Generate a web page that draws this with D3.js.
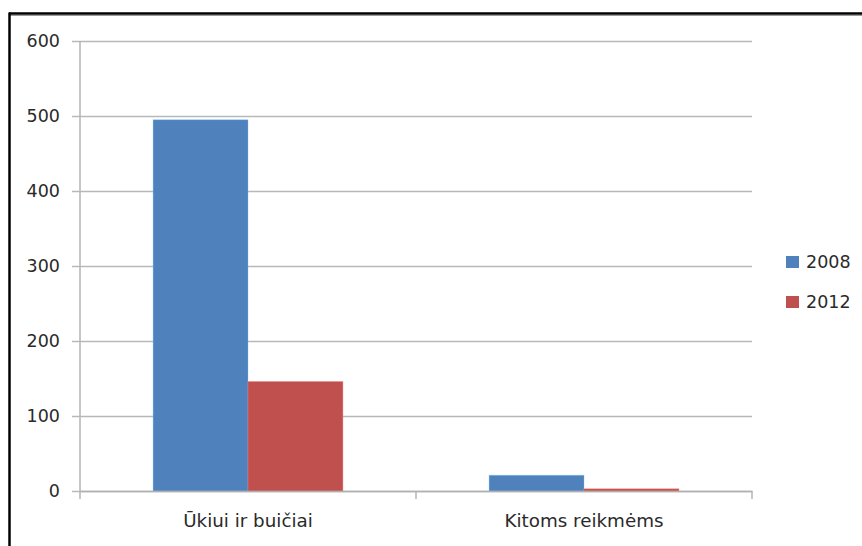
<!DOCTYPE html>
<html>
<head>
<meta charset="utf-8">
<script src="https://cdn.jsdelivr.net/npm/d3@7"></script>
<style>
  html, body { margin: 0; padding: 0; background: #fff; }
  svg { display: block; }
  text { font-family: "DejaVu Sans", "Liberation Sans", sans-serif; fill: #2a2a2a; }
</style>
</head>
<body>
<svg id="chart" width="862" height="546"></svg>
<script>
// Chart data
const categories = ["Ūkiui ir buičiai", "Kitoms reikmėms"];
const seriesNames = ["2008", "2012"];
const values2008 = [495, 21];
const values2012 = [146, 3];
const yTicks = [0, 100, 200, 300, 400, 500, 600];
const colors = ["#4f81bd", "#c0504d"];

const FONT = '"DejaVu Sans", "Liberation Sans", sans-serif';
const FS = 17.5;
const FS_CAT = 18.3;

const svg = d3.select("#chart");
const W = 862, H = 546;
const plot = { left: 80, right: 752, top: 41, bottom: 491 };

// Frame around the chart
svg.append("line").attr("x1", 9).attr("x2", W).attr("y1", 13.5).attr("y2", 13.5)
  .attr("stroke", "#000").attr("stroke-width", 2.5);
svg.append("line").attr("x1", 10).attr("x2", W).attr("y1", 15.5).attr("y2", 15.5)
  .attr("stroke", "#9a9a9a").attr("stroke-width", 1);
svg.append("line").attr("x1", 9.5).attr("x2", 9.5).attr("y1", 12.5).attr("y2", H)
  .attr("stroke", "#000").attr("stroke-width", 2.5);

const x0 = d3.scaleBand().domain(categories).range([plot.left, plot.right]).paddingInner(0).paddingOuter(0);
const x1 = d3.scaleBand().domain(seriesNames).range([0, x0.bandwidth()]).paddingInner(0).paddingOuter(0.77);
const y = d3.scaleLinear().domain([0, 600]).range([plot.bottom, plot.top]);

// Horizontal gridlines and value labels
const gAxisY = svg.append("g").attr("transform", `translate(${plot.left},0)`)
  .call(d3.axisLeft(y).tickValues(yTicks).tickSize(-(plot.right - plot.left)).tickPadding(20).tickFormat(d3.format("d")));
gAxisY.select(".domain").remove();
gAxisY.selectAll(".tick line").attr("stroke", "#b8b8b8").attr("stroke-width", 1.6).attr("x1", -8);
gAxisY.selectAll(".tick text").attr("font-size", FS).attr("fill", "#2a2a2a")
  .style("font-family", FONT);

// Vertical axis line
svg.append("line").attr("x1", plot.left).attr("x2", plot.left).attr("y1", plot.top).attr("y2", plot.bottom + 8)
  .attr("stroke", "#b8b8b8").attr("stroke-width", 1.6);

// Bars
const rows = categories.map((c, i) => ({ cat: c, vals: [values2008[i], values2012[i]] }));
const groups = svg.append("g").selectAll("g").data(rows).join("g")
  .attr("transform", d => `translate(${x0(d.cat)},0)`);
groups.selectAll("rect").data(d => d.vals.map((v, j) => ({ key: seriesNames[j], v, j })))
  .join("rect")
  .attr("x", d => x1(d.key))
  .attr("y", d => y(d.v))
  .attr("width", x1.bandwidth())
  .attr("height", d => y(0) - y(d.v))
  .attr("fill", d => colors[d.j])
  .attr("stroke", d => d3.color(colors[d.j]).brighter(1.2))
  .attr("stroke-opacity", 0.35)
  .attr("stroke-width", 1);

// Category axis
const gAxisX = svg.append("g").attr("transform", `translate(0,${plot.bottom})`)
  .call(d3.axisBottom(x0).tickSize(0).tickPadding(23));
gAxisX.select(".domain").attr("stroke", "#b0b0b0").attr("stroke-width", 1.6);
gAxisX.selectAll(".tick text").attr("font-size", FS_CAT).attr("fill", "#2a2a2a")
  .style("font-family", FONT);
// Tick marks at category boundaries
svg.append("g").selectAll("line").data(categories.slice(1)).join("line")
  .attr("x1", d => x0(d)).attr("x2", d => x0(d))
  .attr("y1", plot.bottom).attr("y2", plot.bottom + 8)
  .attr("stroke", "#b8b8b8").attr("stroke-width", 1.6);
svg.append("line").attr("x1", plot.right).attr("x2", plot.right)
  .attr("y1", plot.bottom).attr("y2", plot.bottom + 8)
  .attr("stroke", "#b8b8b8").attr("stroke-width", 1.6);

// Legend
const legend = svg.append("g").attr("transform", "translate(786,256)");
const li = legend.selectAll("g").data(seriesNames).join("g")
  .attr("transform", (d, i) => `translate(0,${i * 40})`);
li.append("rect").attr("width", 13).attr("height", 12).attr("fill", (d, i) => colors[i]);
li.append("text").attr("x", 20).attr("y", 6).attr("dy", "0.35em")
  .attr("font-size", FS).text(d => d);
</script>
</body>
</html>
